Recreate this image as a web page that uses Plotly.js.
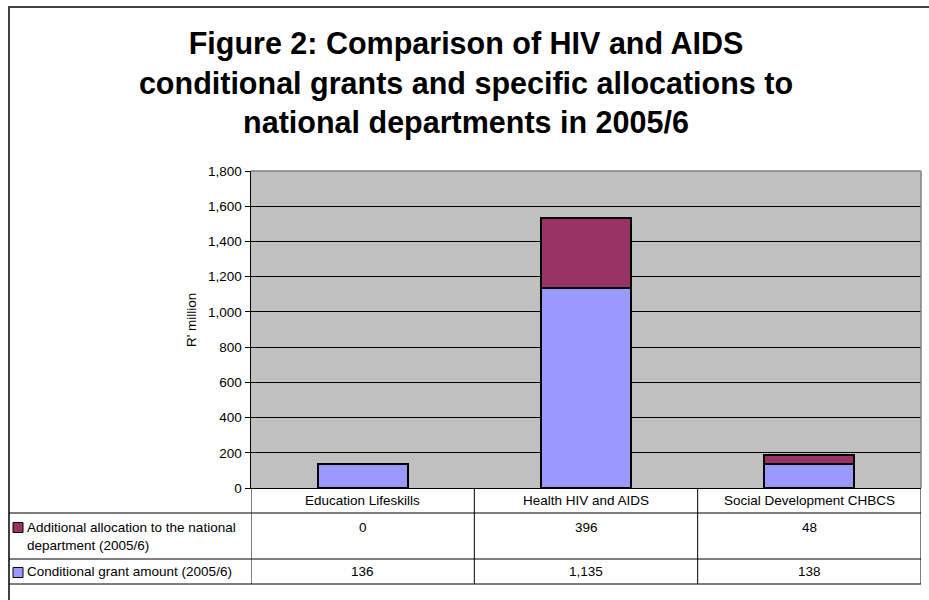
<!DOCTYPE html>
<html>
<head>
<meta charset="utf-8">
<script src="https://cdn.plot.ly/plotly-3.0.1.min.js"></script>
<style>html,body{margin:0;padding:0;background:#fff;}#chart{width:929px;height:600px;}</style>
</head>
<body>
<div id="chart"></div>
<script>
// ---- data ----
var categories = ["Education Lifeskills", "Health HIV and AIDS", "Social Development CHBCS"];
var conditionalGrant = [136, 1135, 138];
var additionalAllocation = [0, 396, 48];
var seriesNames = ["Conditional grant amount (2005/6)", "Additional allocation to the national<br>department (2005/6)"];
var seriesColors = ["#9999FF", "#993366"];
var yTicks = [0, 200, 400, 600, 800, 1000, 1200, 1400, 1600, 1800];

// ---- geometry helpers (plot area l=251, r=921, t=171, b=488) ----
var W = 929, H = 600, L = 251, R = 921, T = 171, B = 488;
function px(x) { return (x - L) / (R - L); }
function py(y) { return (B - y) / (B - T); }
var FONT = "Liberation Sans, Arial, sans-serif";
var TS = 13.5;

var traces = [
  {type: "bar", x: categories, y: conditionalGrant, name: seriesNames[0],
   marker: {color: seriesColors[0], line: {color: "#000", width: 2}}, hoverinfo: "skip"},
  {type: "bar", x: categories, y: additionalAllocation, name: seriesNames[1],
   marker: {color: seriesColors[1], line: {color: "#000", width: 2}}, hoverinfo: "skip"}
];

var shapes = [];
var annotations = [];
// outer frame
shapes.push({type: "rect", xref: "paper", yref: "paper", x0: px(9), x1: px(940), y0: py(615), y1: py(7),
  line: {color: "#404040", width: 2}, fillcolor: "rgba(0,0,0,0)", layer: "above"});
// plot frame (top/right grey)
shapes.push({type: "line", xref: "paper", yref: "paper", x0: 0, x1: 1, y0: 1, y1: 1, line: {color: "#808080", width: 1.5}, layer: "above"});
shapes.push({type: "line", xref: "paper", yref: "paper", x0: 1, x1: 1, y0: 0, y1: 1, line: {color: "#808080", width: 1.5}, layer: "above"});
// table horizontal lines
[513, 559, 584].forEach(function (y) {
  shapes.push({type: "line", xref: "paper", yref: "paper", x0: px(9), x1: 1, y0: py(y), y1: py(y), line: {color: "#000", width: 1}});
});
// table vertical lines at category boundaries
for (var i = 0; i <= categories.length; i++) {
  shapes.push({type: "line", xref: "x", yref: "paper", x0: i - 0.5, x1: i - 0.5, y0: py(488), y1: py(584), line: {color: "#000", width: 1}});
}
// category header labels
categories.forEach(function (c) {
  annotations.push({xref: "x", yref: "paper", x: c, y: py(500), text: c, showarrow: false,
    font: {family: FONT, size: TS, color: "#000"}, xanchor: "center", yanchor: "middle"});
});
// table rows: additional (top row), conditional (second row)
var rows = [
  {name: seriesNames[1], color: seriesColors[1], vals: additionalAllocation, yText: 527, yLabel: 536.5, ySq: 527.5},
  {name: seriesNames[0], color: seriesColors[0], vals: conditionalGrant, yText: 571, yLabel: 571.5, ySq: 572.5}
];
rows.forEach(function (r) {
  shapes.push({type: "rect", xref: "paper", yref: "paper", x0: px(13), x1: px(23), y0: py(r.ySq + 5), y1: py(r.ySq - 5),
    fillcolor: r.color, line: {color: "#000", width: 1}});
  annotations.push({xref: "paper", yref: "paper", x: px(25), y: py(r.yLabel), text: r.name, showarrow: false, align: "left",
    font: {family: FONT, size: TS, color: "#000"}, xanchor: "left", yanchor: "middle"});
  r.vals.forEach(function (v, k) {
    annotations.push({xref: "x", yref: "paper", x: categories[k], y: py(r.yText), text: v.toLocaleString("en-US"), showarrow: false,
      font: {family: FONT, size: TS, color: "#000"}, xanchor: "center", yanchor: "middle"});
  });
});
// y-axis title
annotations.push({xref: "paper", yref: "paper", x: px(191), y: py(320), text: "R' million", textangle: -90, showarrow: false,
  font: {family: FONT, size: TS, color: "#000"}, xanchor: "center", yanchor: "middle"});

var layout = {
  width: W, height: H,
  margin: {l: L, r: W - R, t: T, b: H - B, pad: 0},
  paper_bgcolor: "#fff", plot_bgcolor: "#C0C0C0",
  barmode: "stack", bargap: 0.597, showlegend: false,
  title: {text: "<b>Figure 2: Comparison of HIV and AIDS<br>conditional grants and specific allocations to<br>national departments in 2005/6</b>",
    font: {family: FONT, size: 30.5, color: "#000"}, x: 466 / W, xanchor: "center", xref: "container",
    y: 1 - 54 / H, yanchor: "top", yref: "container"},
  xaxis: {type: "category", showticklabels: false, ticks: "", showgrid: false, zeroline: false,
    showline: true, linecolor: "#000", linewidth: 1, range: [-0.5, 2.5], fixedrange: true},
  yaxis: {range: [0, 1800], tickvals: yTicks, ticktext: yTicks.map(function (v) { return v.toLocaleString("en-US"); }),
    ticks: "outside", ticklen: 5, tickcolor: "#000", tickwidth: 1,
    showgrid: true, gridcolor: "#000", gridwidth: 1, zeroline: false,
    showline: true, linecolor: "#000", linewidth: 1.5,
    tickfont: {family: FONT, size: 13.5, color: "#000"}, fixedrange: true},
  shapes: shapes, annotations: annotations
};

Plotly.newPlot("chart", traces, layout, {displayModeBar: false, staticPlot: true});
</script>
</body>
</html>
